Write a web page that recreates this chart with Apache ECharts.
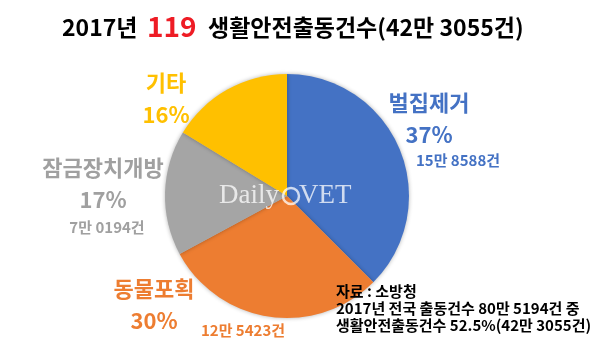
<!DOCTYPE html>
<html>
<head>
<meta charset="utf-8">
<script src="https://cdn.jsdelivr.net/npm/echarts@6/dist/echarts.min.js"></script>
<style>
  html, body { margin: 0; padding: 0; background: #fff; }
  #pie { width: 600px; height: 351px; }
</style>
</head>
<body>
<div id="pie"></div>
<script>
// 데이터
var categories = ['벌집제거', '동물포획', '잠금장치개방', '기타'];
var counts = [158588, 125423, 70194, 68850];
var showCount = [true, true, true, false];
var colors = ['#4472C4', '#ED7D31', '#A5A5A5', '#FFC000'];
var textColors = ['#4472C4', '#ED7D31', '#A0A0A0', '#FFC000'];

var titleParts = ['2017년', '119', '생활안전출동건수(42만 3055건)'];
var sourceLines = ['자료 : 소방청', '2017년 전국 출동건수 80만 5194건 중', '생활안전출동건수 52.5%(42만 3055건)'];

var FONT = '"Noto Sans CJK KR", "Noto Sans", sans-serif';

// 라벨 위치 (이름+퍼센트, 건수)
var nameLabelPos = [[429, 119], [154, 305], [103, 184], [166, 99]];
var countLabelPos = [[458, 160], [243, 330], [107, 227], [0, 0]];

function fmtCount(v) {
	return Math.floor(v / 10000) + '만 ' + String(v % 10000).padStart(4, '0') + '건';
}

var myChart = echarts.init(document.getElementById('pie'));

var wm = 'rgba(255,255,255,0.75)';
var options = {
	animation: false,
	textStyle: { fontFamily: FONT },
	graphic: [
		// 제목
		{
			type: 'text', x: 62, y: 27,
			style: { text: titleParts[0], fontSize: 23, fontWeight: 'bold', fill: '#000', fontFamily: FONT, verticalAlign: 'middle' }
		},
		{
			type: 'text', x: 147, y: 26,
			style: { text: titleParts[1], fontSize: 28, fontWeight: 'bold', fill: '#EE1C25', fontFamily: FONT, verticalAlign: 'middle' }
		},
		{
			type: 'text', x: 208, y: 27,
			style: { text: titleParts[2], fontSize: 23, fontWeight: 'bold', fill: '#000', fontFamily: FONT, verticalAlign: 'middle' }
		},
		// 출처
		{
			type: 'text', x: 336, y: 283, z: 10,
			style: {
				text: sourceLines.join('\n'),
				fontSize: 15, fontWeight: 'bold', lineHeight: 17,
				fill: '#000', fontFamily: FONT
			}
		},
		// 워터마크
		{
			type: 'text', x: 219, y: 196, z: 10,
			style: { text: 'Daily', fontSize: 27, fontFamily: '"Liberation Serif", serif', fill: wm, verticalAlign: 'middle' }
		},
		{
			type: 'circle', z: 10,
			shape: { cx: 291, cy: 196, r: 8 },
			style: { stroke: wm, lineWidth: 2.5, fill: null }
		},
		{
			type: 'text', x: 299, y: 196, z: 10,
			style: { text: 'VET', fontSize: 27, fontFamily: '"Liberation Serif", serif', fill: wm, verticalAlign: 'middle' }
		}
	],
	series: [
		{
			name: '생활안전출동',
			type: 'pie',
			center: [287, 196],
			radius: 122,
			startAngle: 90,
			silent: true,
			itemStyle: {
				shadowBlur: 4,
				shadowColor: 'rgba(0,0,0,0.3)'
			},
			label: {
				show: true,
				overflow: 'none',
				formatter: function (p) {
					return '{n|' + p.name + '}\n{p|' + Math.round(p.percent) + '%}';
				},
				rich: {
					n: { fontSize: 22, fontWeight: 'bold', lineHeight: 32, fontFamily: FONT },
					p: { fontSize: 22, fontWeight: 'bold', lineHeight: 32, fontFamily: FONT }
				}
			},
			labelLine: { show: false },
			labelLayout: function (p) {
				var pos = nameLabelPos[p.dataIndex];
				return { x: pos[0], y: pos[1], align: 'center', verticalAlign: 'middle' };
			},
			data: categories.map(function (n, i) {
				return {
					name: n, value: counts[i],
					itemStyle: { color: colors[i] },
					label: { color: textColors[i] }
				};
			})
		},
		{
			name: '건수',
			type: 'pie',
			center: [287, 196],
			radius: 122,
			startAngle: 90,
			silent: true,
			itemStyle: { color: 'rgba(0,0,0,0)' },
			label: {
				show: true,
				overflow: 'none',
				fontSize: 15,
				fontWeight: 'bold',
				fontFamily: FONT,
				formatter: function (p) {
					return showCount[p.dataIndex] ? fmtCount(p.value) : '';
				}
			},
			labelLine: { show: false },
			labelLayout: function (p) {
				var pos = countLabelPos[p.dataIndex];
				return { x: pos[0], y: pos[1], align: 'center', verticalAlign: 'middle' };
			},
			data: categories.map(function (n, i) {
				return {
					name: n, value: counts[i],
					itemStyle: { color: 'rgba(0,0,0,0)' },
					label: { color: textColors[i] }
				};
			})
		}
	]
};
myChart.setOption(options);
</script>
</body>
</html>
